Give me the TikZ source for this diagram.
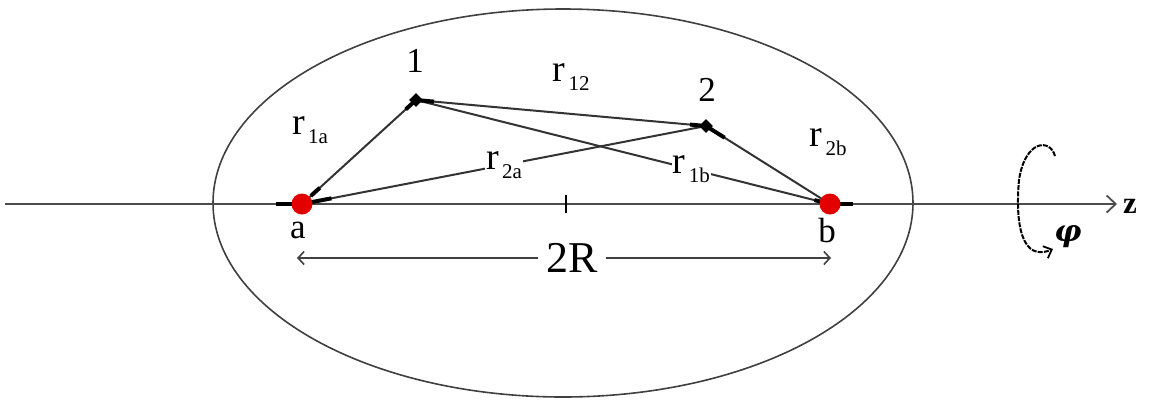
\documentclass[tikz,border=0pt]{standalone}
\usepackage{fontspec}
\setmainfont{Liberation Serif}
\newfontfamily\phifont{DejaVu Serif}
\usetikzlibrary{arrows.meta,shapes.geometric,calc}
\newcommand{\rsub}[1]{r\raisebox{-0.55ex}{\fontsize{21}{21}\selectfont\,#1}}
\begin{document}
\begin{tikzpicture}[x=1pt,y=-1pt,
  ln/.style={line width=2pt, draw=black!80},
  thk/.style={line width=4pt, draw=black},
  lbl/.style={font=\fontsize{35}{37}\selectfont, inner sep=1pt},
  rlbl/.style={font=\fontsize{38}{40}\selectfont, inner sep=1pt},
  reddot/.style={circle, fill=red!90!black, minimum size=21pt, inner sep=0pt},
  pdot/.style={diamond, fill=black, minimum size=14pt, inner sep=0pt},
  brk/.style={fill=white, inner sep=2pt}]
\useasboundingbox (0,0) rectangle (1149,400);
% ellipse
\draw[line width=1.6pt, black!75] (563,203) ellipse [x radius=350, y radius=194];
% axis
\coordinate (zs) at (5,204);
\coordinate (ze) at (1117,204);
\draw[line width=2.4pt, black!70, -{Straight Barb[length=9pt,width=17pt,line width=1.8pt]}] (zs) -- (ze);
\node[font=\bfseries\fontsize{31}{31}\selectfont, anchor=west, inner sep=0pt] (zl) at (1123,206) {z};
% points
\coordinate (a) at (302,204);
\coordinate (b) at (830,204);
\coordinate (p1) at (416,100);
\coordinate (p2) at (706,126);
\coordinate (c) at (566,204);
% tick at center
\draw[line width=1.8pt] ([yshift=-9pt]c) -- ([yshift=9pt]c);
% thick bits on axis
\draw[thk] (276,204) -- (300,204);
\draw[thk] (830,204) -- (853,204);
% connectors
\draw[ln] (p1) -- (a);
\draw[ln] (p1) -- (p2);
\draw[ln] (p2) -- (b);
\draw[ln] (p1) -- node[pos=0.665, brk, rlbl] (r1b) {\rsub{1b}} (b);
\draw[ln] (a) -- node[pos=0.5, brk, rlbl] (r2a) {\rsub{2a}} (p2);
% thick ends
\draw[thk] ($(a)!12pt!(p1)$) -- ($(a)!24pt!(p1)$);
\draw[thk] ($(a)!8pt!(p2)$) -- ($(a)!30pt!(p2)$);
\draw[thk] ($(b)!0pt!(p1)$) -- ($(b)!16pt!(p1)$);
\draw[thk] ($(p2)!0pt!(b)$) -- ($(p2)!22pt!(b)$);
\draw[thk] ($(p1)!0pt!(p2)$) -- ($(p1)!18pt!(p2)$);
\draw[thk] ($(p2)!0pt!(p1)$) -- ($(p2)!16pt!(p1)$);
\draw[thk] ($(p1)!0pt!(a)$) -- ($(p1)!14pt!(a)$);
% dots
\node[reddot] (da) at (a) {};
\node[reddot] (db) at (b) {};
\node[pdot] (d1) at (p1) {};
\node[pdot] (d2) at (p2) {};
% labels
\node[lbl] (l1) at (415,61) {1};
\node[lbl] (l2) at (707,90) {2};
\node[rlbl] (r12) at (571,77) {\rsub{12}};
\node[rlbl] (r1a) at (310,130) {\rsub{1a}};
\node[rlbl] (r2b) at (828,142) {\rsub{2b}};
\node[lbl, anchor=base] (la) at (298,238) {a};
\node[lbl, anchor=base] (lb) at (827,242) {b};
% dimension 2R
\coordinate (d0) at (297,258);
\coordinate (d1) at (831,258);
\node[font=\fontsize{44}{44}\selectfont, inner sep=0pt] (tR) at (572,258) {2R};
\draw[line width=2.2pt, black!75, -{Straight Barb[length=6pt,width=13pt,line width=1.6pt]}] (tR.west) ++(-8pt,0) -- (d0);
\draw[line width=2.2pt, black!75, -{Straight Barb[length=6pt,width=13pt,line width=1.6pt]}] (tR.east) ++(8pt,0) -- (d1);
% rotation arrow
\coordinate (ph0) at (1055,156);
\coordinate (ph1) at (1053,249);
\draw[line width=2pt, dash pattern=on 5pt off 1.2pt, -{Straight Barb[length=7pt,width=13pt,line width=1.8pt]}]
  (ph0) .. controls (1050,138) and (1025,140) .. (1019,180)
  .. controls (1015,225) and (1022,262) .. (ph1);
\node[font=\phifont\bfseries\itshape\fontsize{30}{30}\selectfont, inner sep=0pt] (phi) at (1068,236) {φ};
\end{tikzpicture}
\end{document}
